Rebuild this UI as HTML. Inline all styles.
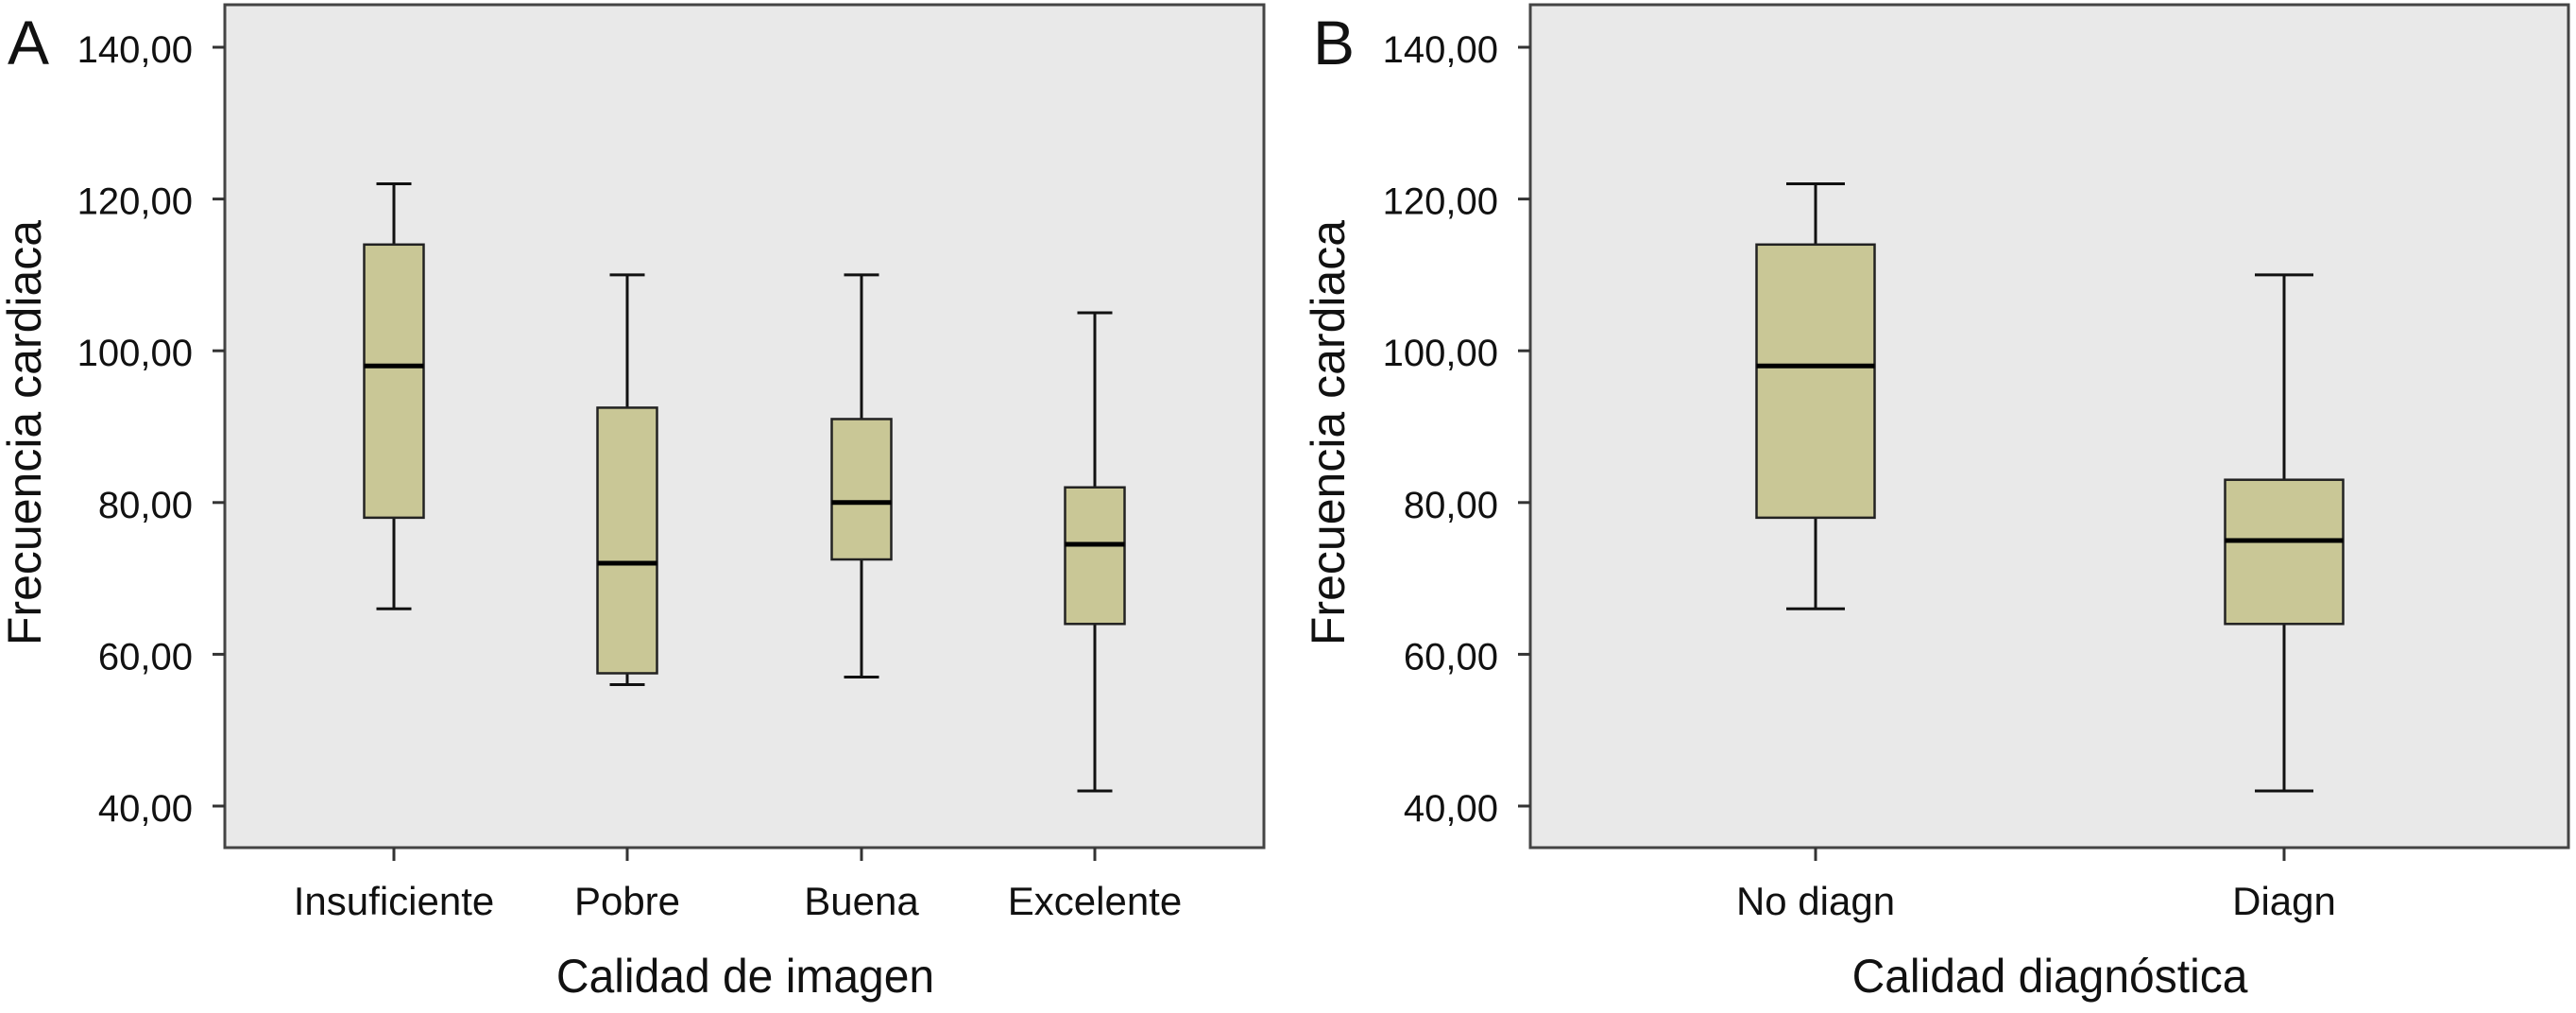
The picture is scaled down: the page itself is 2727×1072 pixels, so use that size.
<!DOCTYPE html>
<html><head><meta charset="utf-8">
<style>
html,body{margin:0;padding:0;background:#fff;}
svg{display:block;font-family:"Liberation Sans",sans-serif;}
</style></head>
<body>
<svg id="chart" width="2727" height="1072" viewBox="0 0 2727 1072"></svg>
<script>
const catsA = ["Insuficiente","Pobre","Buena","Excelente"];
const minA = [66,56,57,42];
const q1A = [78,57.5,72.5,64];
const medA = [98,72,80,74.5];
const q3A = [114,92.5,91,82];
const maxA = [122,110,110,105];
const catsB = ["No diagn","Diagn"];
const minB = [66,42];
const q1B = [78,64];
const medB = [98,75];
const q3B = [114,83];
const maxB = [122,110];
const yTicks = [40,60,80,100,120,140];
const yTickLabels = ["40,00","60,00","80,00","100,00","120,00","140,00"];

const NS="http://www.w3.org/2000/svg";
const svg=document.getElementById('chart');
function mk(tag,attrs,parent){const e=document.createElementNS(NS,tag);for(const k in attrs)e.setAttribute(k,attrs[k]);(parent||svg).appendChild(e);return e;}

function panel(cfg){
  const g=mk('g',{});
  
  
  const yScale=v=>50+(140-v)/(140-40)*(853-50);
  const xScale=i=>cfg.xs[i];
  const bg=mk('rect',{x:cfg.left,y:cfg.top,width:cfg.right-cfg.left,height:cfg.bottom-cfg.top,fill:'#e9e9e9',stroke:'#444','stroke-width':3},g);
  
  
  yTicks.forEach((t,i)=>{
    const y=yScale(t);
    mk('line',{x1:cfg.left-13,x2:cfg.left,y1:y,y2:y,stroke:'#333','stroke-width':3},g);
    const tx=mk('text',{x:cfg.left-34,y:y+16,'font-size':40,'text-anchor':'end',fill:'#111'},g);
    tx.textContent=yTickLabels[i];
    
    
  });
  const yt=mk('text',{x:0,y:0,'font-size':50,'text-anchor':'middle',fill:'#111',transform:`translate(${cfg.ytx},458) rotate(-90)`},g);
  yt.textContent='Frecuencia cardiaca';
  
  
  const xt=mk('text',{x:0,y:0,'font-size':50,'text-anchor':'middle',fill:'#111',transform:`translate(${cfg.xtx},1050) scale(0.96,1)`},g);
  xt.textContent=cfg.xtitle;
  
  
  const lt=mk('text',{x:cfg.letterX,y:68,'font-size':66,fill:'#111'},g);
  lt.textContent=cfg.letter;
  
  
  cfg.cats.forEach((c,i)=>{
    const x=xScale(i);
    mk('line',{x1:x,x2:x,y1:cfg.bottom,y2:cfg.bottom+14,stroke:'#333','stroke-width':3},g);
    const cl=mk('text',{x:x,y:968,'font-size':42,'text-anchor':'middle',fill:'#111'},g);
    cl.textContent=c;
    
    
    const bw=cfg.bw, cw=cfg.cw;
    const bg2=mk('g',{},g);
    
    
    mk('line',{x1:x,x2:x,y1:yScale(cfg.max[i]),y2:yScale(cfg.q3[i]),stroke:'#111','stroke-width':3},bg2);
    mk('line',{x1:x,x2:x,y1:yScale(cfg.q1[i]),y2:yScale(cfg.min[i]),stroke:'#111','stroke-width':3},bg2);
    mk('line',{x1:x-cw/2,x2:x+cw/2,y1:yScale(cfg.max[i]),y2:yScale(cfg.max[i]),stroke:'#111','stroke-width':3},bg2);
    mk('line',{x1:x-cw/2,x2:x+cw/2,y1:yScale(cfg.min[i]),y2:yScale(cfg.min[i]),stroke:'#111','stroke-width':3},bg2);
    mk('rect',{x:x-bw/2,y:yScale(cfg.q3[i]),width:bw,height:yScale(cfg.q1[i])-yScale(cfg.q3[i]),fill:'#c9c796',stroke:'#222','stroke-width':2.5},bg2);
    mk('line',{x1:x-bw/2,x2:x+bw/2,y1:yScale(cfg.med[i]),y2:yScale(cfg.med[i]),stroke:'#000','stroke-width':5},bg2);
  });
}
panel({name:'panel-a',left:238,right:1338,top:5,bottom:897,xs:[417,664,912,1159],bw:63,cw:37,cats:catsA,min:minA,q1:q1A,med:medA,q3:q3A,max:maxA,ytx:43,xtx:789,xtitle:'Calidad de imagen',letter:'A',letterX:8});
panel({name:'panel-b',left:1620,right:2719,top:5,bottom:897,xs:[1922,2418],bw:125,cw:62,cats:catsB,min:minB,q1:q1B,med:medB,q3:q3B,max:maxB,ytx:1423,xtx:2170,xtitle:'Calidad diagnóstica',letter:'B',letterX:1390});
</script>
</body></html>
